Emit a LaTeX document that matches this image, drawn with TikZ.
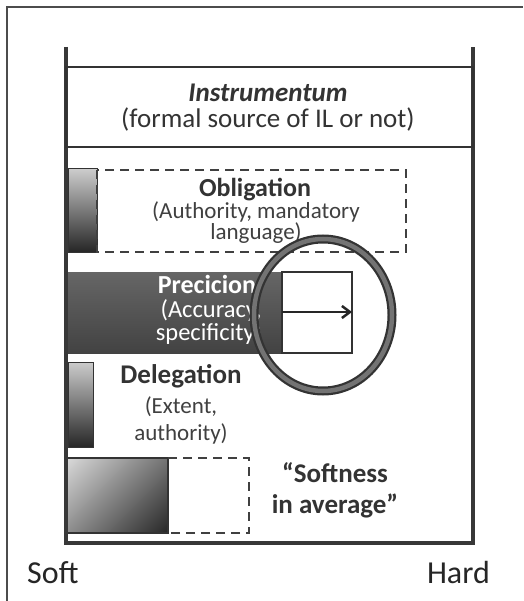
\documentclass[tikz,border=0pt]{standalone}
\usepackage{fontspec}
\setmainfont{Carlito}
\usetikzlibrary{arrows.meta,shadings}
\tikzset{
  frameline/.style={draw=black!78, line width=3.5pt},
  dashbox/.style={draw=black!75, line width=2.2pt, dash pattern=on 9pt off 6pt},
  lbl/.style={anchor=base, inner sep=0pt},
  headt/.style={lbl, font=\fontsize{26}{26}\selectfont\bfseries, text=black!80},
  subt/.style={lbl, font=\fontsize{23}{23}\selectfont, text=black!75},
  prect/.style={lbl, text=white, font=\fontsize{24.5}{24.5}\selectfont},
}
\begin{document}
\begin{tikzpicture}[x=1pt,y=-1pt]
\useasboundingbox (0,0) rectangle (523,601);
\fill[white] (0,0) rectangle (523,601);
% outer frame
\draw[draw=black!70, line width=2.5pt] (7,601) -- (7,7) -- (523,7);
% chart frame
\draw[frameline] (66,47) -- (66,543) -- (473,543) -- (473,47);
% Instrumentum
\draw[draw=black!80, line width=2.5pt] (66,67) rectangle (473,147);
\node[lbl, font=\fontsize{27}{27}\selectfont\bfseries\itshape, text=black!80] (instr1) at (268,102) {Instrumentum};
\node[lbl, font=\fontsize{27}{27}\selectfont, text=black!80] (instr2) at (268,128) {(formal source of IL or not)};
% Obligation
\shade[top color=black!20, bottom color=black!85, draw=black!80, line width=1pt] (68,169) rectangle (97,252);
\draw[dashbox] (97,170) rectangle (406,252);
\node[headt] (obl1) at (255,197) {Obligation};
\node[subt] (obl2) at (256,219) {(Authority, mandatory};
\node[subt] (obl3) at (256,240) {language)};
% Precicion
\shade[top color=black!60, bottom color=black!74] (68,272) rectangle (282,353);
\node[prect, font=\fontsize{26}{26}\selectfont\bfseries] (pre1) at (207,293) {Precicion};
\node[prect] (pre2) at (211,317) {(Accuracy,};
\node[prect] (pre3) at (209,340) {specificity)};
\draw[draw=black!80, line width=1.8pt, fill=white] (282,272) rectangle (352,353);
\coordinate (pa) at (282,312);
\coordinate (pb) at (352,312);
\draw[draw=black!85, line width=2.5pt, -{Straight Barb[length=8pt,width=12pt]}] (pa) -- (pb);
% Delegation
\shade[top color=black!20, bottom color=black!85, draw=black!80, line width=1pt] (68,362) rectangle (93,447);
\node[headt, font=\fontsize{27}{27}\selectfont\bfseries] (del1) at (181,383) {Delegation};
\node[subt] (del2) at (181,413) {(Extent,};
\node[subt] (del3) at (181,440) {authority)};
% Softness in average
\shade[upper left=black!15, upper right=black!55, lower left=black!45, lower right=black!85] (68,458) rectangle (168,533);
\draw[draw=black!80, line width=1.5pt] (68,458) -- (168,458) -- (168,533) -- (68,533);
\draw[dashbox] (168,458) -- (249,458) -- (249,533) -- (168,533);
\node[headt, font=\fontsize{27}{27}\selectfont\bfseries] (sft1) at (335,482) {“Softness};
\node[headt, font=\fontsize{27}{27}\selectfont\bfseries] (sft2) at (335,513) {in average”};
% magnifier circle
\draw[draw=black!80, line width=9pt] (323,315) ellipse [x radius=69, y radius=76];
\draw[draw=black!55, line width=4.5pt] (323,315) ellipse [x radius=69, y radius=76];
% axis labels
\node[lbl, font=\fontsize{32}{32}\selectfont, text=black!85, anchor=base west] (softlbl) at (27,583) {Soft};
\node[lbl, font=\fontsize{32}{32}\selectfont, text=black!85, anchor=base east] (hardlbl) at (490,583) {Hard};
\end{tikzpicture}
\end{document}
